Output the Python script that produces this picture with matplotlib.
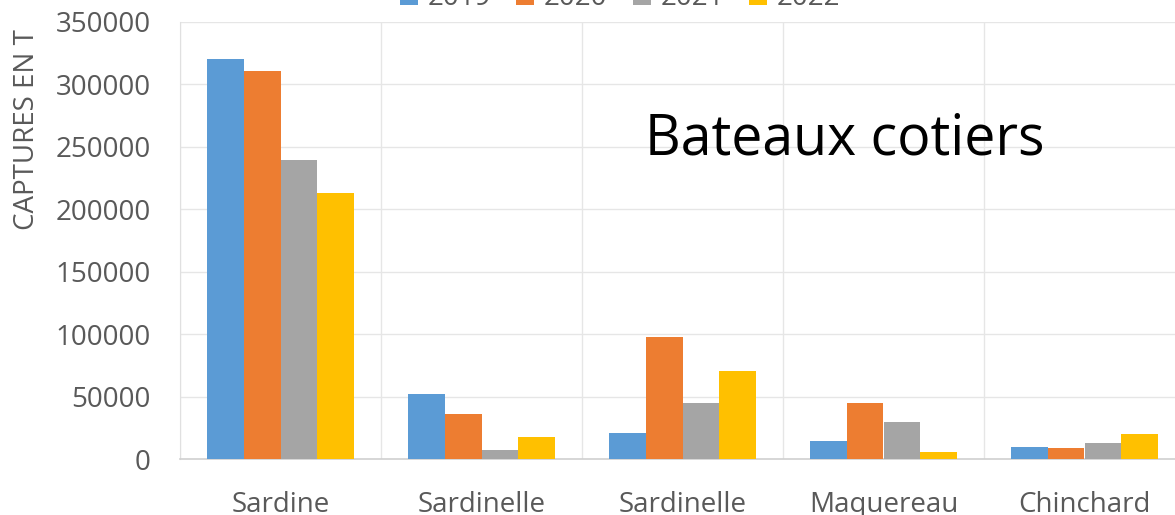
import matplotlib
matplotlib.use("Agg")
import matplotlib.pyplot as plt
import numpy as np

categories = ["Sardine", "Sardinelle", "Sardinelle", "Maquereau", "Chinchard"]
years = ["2019", "2020", "2021", "2022"]
v2019 = [320000, 52000, 20500, 14500, 9800]
v2020 = [311000, 36000, 98000, 45000, 9000]
v2021 = [239500, 7500, 45000, 30000, 13000]
v2022 = [213000, 18000, 70500, 5800, 20000]
series = [v2019, v2020, v2021, v2022]
colors = ["#5B9BD5", "#ED7D31", "#A5A5A5", "#FFC000"]
yticks = [0, 50000, 100000, 150000, 200000, 250000, 300000, 350000]

plt.rcParams['font.family'] = ['Open Sans', 'DejaVu Sans']
txt = "#595959"

fig = plt.figure(figsize=(11.75, 5.15), dpi=100)
W, H = 1175, 515
ax = fig.add_axes([180 / W, (H - 459) / H, 1005 / W, 437 / H])

x = np.arange(len(categories))
bw = 0.182
for i, (vals, c, lab) in enumerate(zip(series, colors, years)):
    ax.bar(x + (i - 1.5) * bw, vals, width=bw, color=c, label=lab, zorder=3)

ax.set_xlim(-0.5, len(categories) - 0.5)
ax.set_ylim(0, 350000)
ax.set_yticks(yticks)
ax.set_yticklabels([str(t) for t in yticks])
ax.set_xticks(x)
ax.set_xticklabels(categories)
ax.set_xticks(np.arange(len(categories) + 1) - 0.5, minor=True)

ax.tick_params(axis='both', which='both', length=0, colors=txt, labelsize=20)
ax.tick_params(axis='x', which='major', pad=23)
ax.tick_params(axis='y', pad=21)
ax.grid(axis='y', which='major', color='#E6E6E6', lw=1, zorder=0)
ax.grid(axis='x', which='minor', color='#E6E6E6', lw=1, zorder=0)
for s in ['top', 'right']:
    ax.spines[s].set_visible(False)
ax.spines['left'].set_color('#E0E0E0')
ax.spines['bottom'].set_color('#D0D0D0')
ax.spines['bottom'].set_linewidth(1.2)

fig.text(27 / W, 1 - 130 / H, "CAPTURES EN T", rotation=90, ha='center', va='center',
         color=txt, fontsize=20)
fig.text(845 / W, 1 - 140 / H, "Bateaux cotiers", ha='center', va='center',
         color='black', fontsize=40)

leg = fig.legend(loc='center', bbox_to_anchor=(620 / W, 1 + 2 / H), ncol=4, frameon=False,
                 fontsize=20, handlelength=0.65, handleheight=0.65, handletextpad=0.35,
                 columnspacing=0.9, labelcolor=txt, borderpad=0, borderaxespad=0)

fig.savefig("out.png", dpi=100)
